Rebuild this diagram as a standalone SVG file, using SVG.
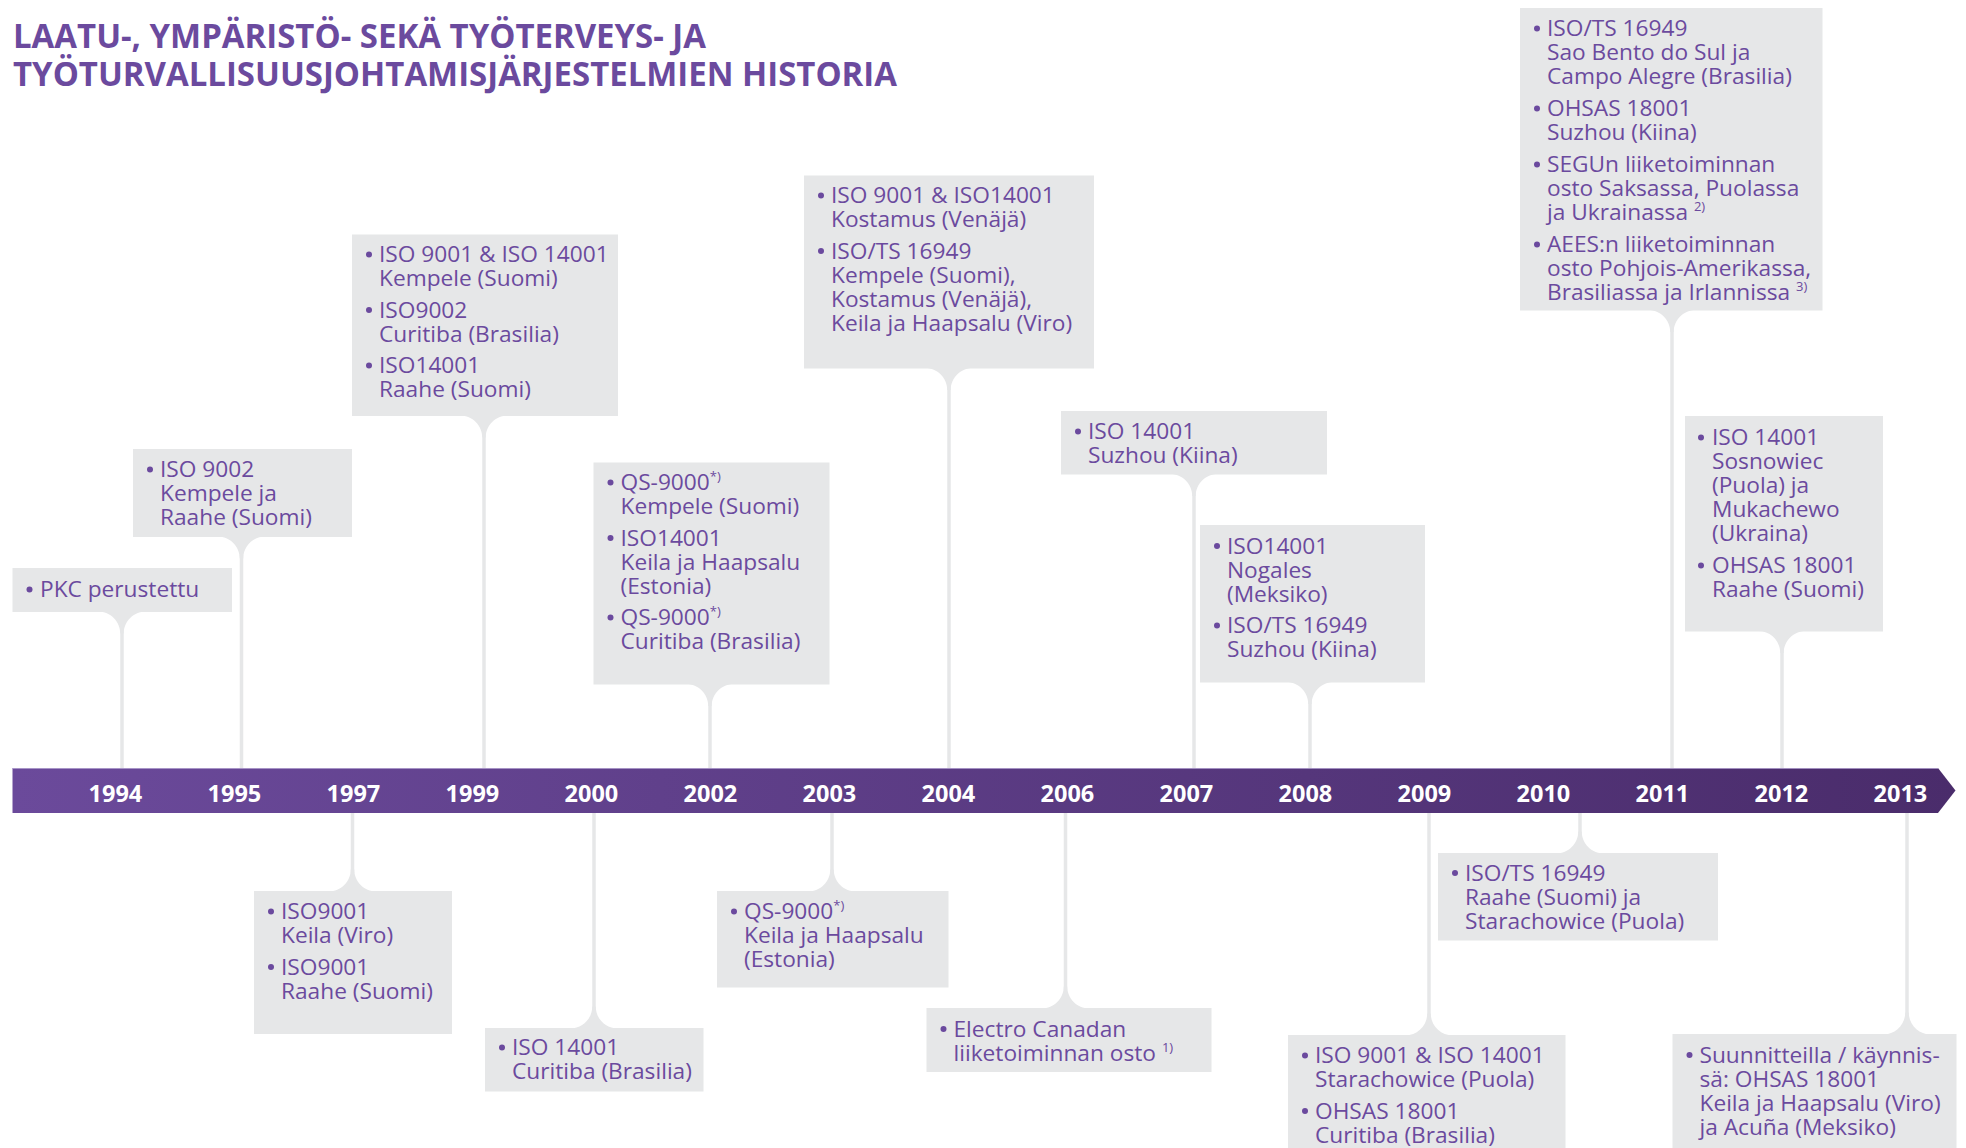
<svg xmlns="http://www.w3.org/2000/svg" xmlns:xlink="http://www.w3.org/1999/xlink" width="1966" height="1148" viewBox="0 0 1966 1148">
<style>
.box{fill:#e6e7e8}
.t{font-family:"Open Sans","Noto Sans","DejaVu Sans",sans-serif;font-size:22.7px;fill:#6b4a9e}
.bu{fill:#6b4a9e}
.sup{font-size:13px}
.title{font-family:"Open Sans","Noto Sans","DejaVu Sans",sans-serif;font-size:34px;font-weight:700;fill:#6b4a9e}
.yr{font-family:"Open Sans","Noto Sans","DejaVu Sans",sans-serif;font-size:23.5px;font-weight:700;fill:#ffffff;text-anchor:middle}
.stem{stroke:#e6e7e8;stroke-width:3.5;fill:none}
.fl{fill:#e6e7e8}
</style>
<defs>
<linearGradient id="barg" x1="0" y1="0" x2="1" y2="0">
<stop offset="0" stop-color="#6b4a9b"/>
<stop offset="1" stop-color="#4a2c6b"/>
</linearGradient>
<path id="flDown" d="M-23.75,0 C-11.6,0 -1.75,9.85 -1.75,22 L1.75,22 C1.75,9.85 11.6,0 23.75,0 Z"/>
<path id="flUp" d="M-23.75,0 C-11.6,0 -1.75,-9.85 -1.75,-22 L1.75,-22 C1.75,-9.85 11.6,0 23.75,0 Z"/>
</defs>
<rect width="1966" height="1148" fill="#ffffff"/>

<g id="title">
<text class="title" x="13" y="48" textLength="693" lengthAdjust="spacingAndGlyphs">LAATU-, YMPÄRISTÖ- SEKÄ TYÖTERVEYS- JA</text>
<text class="title" x="13" y="86" textLength="884" lengthAdjust="spacingAndGlyphs">TYÖTURVALLISUUSJOHTAMISJÄRJESTELMIEN HISTORIA</text>
</g>

<g id="connectors">
<use xlink:href="#flDown" class="fl" x="122" y="611.5"/><line class="stem" x1="122" y1="630" x2="122" y2="768"/>
<use xlink:href="#flDown" class="fl" x="241.5" y="536.5"/><line class="stem" x1="241.5" y1="555" x2="241.5" y2="768"/>
<use xlink:href="#flDown" class="fl" x="484" y="415.5"/><line class="stem" x1="484" y1="434" x2="484" y2="768"/>
<use xlink:href="#flDown" class="fl" x="710" y="684"/><line class="stem" x1="710" y1="702" x2="710" y2="768"/>
<use xlink:href="#flDown" class="fl" x="949" y="368"/><line class="stem" x1="949" y1="386" x2="949" y2="768"/>
<use xlink:href="#flDown" class="fl" x="1194" y="474"/><line class="stem" x1="1194" y1="492" x2="1194" y2="768"/>
<use xlink:href="#flDown" class="fl" x="1310" y="682"/><line class="stem" x1="1310" y1="700" x2="1310" y2="768"/>
<use xlink:href="#flDown" class="fl" x="1672" y="310"/><line class="stem" x1="1672" y1="328" x2="1672" y2="768"/>
<use xlink:href="#flDown" class="fl" x="1782" y="631"/><line class="stem" x1="1782" y1="649" x2="1782" y2="768"/>
<use xlink:href="#flUp" class="fl" x="352.5" y="891.5"/><line class="stem" x1="352.5" y1="813" x2="352.5" y2="873"/>
<use xlink:href="#flUp" class="fl" x="594" y="1028.5"/><line class="stem" x1="594" y1="813" x2="594" y2="1010"/>
<use xlink:href="#flUp" class="fl" x="832" y="891.5"/><line class="stem" x1="832" y1="813" x2="832" y2="873"/>
<use xlink:href="#flUp" class="fl" x="1065.5" y="1008.5"/><line class="stem" x1="1065.5" y1="813" x2="1065.5" y2="990"/>
<use xlink:href="#flUp" class="fl" x="1429" y="1035.5"/><line class="stem" x1="1429" y1="813" x2="1429" y2="1017"/>
<use xlink:href="#flUp" class="fl" x="1580" y="853.5"/><line class="stem" x1="1580" y1="813" x2="1580" y2="835"/>
<use xlink:href="#flUp" class="fl" x="1907" y="1034.5"/><line class="stem" x1="1907" y1="813" x2="1907" y2="1016"/>
</g>

<g id="timeline">
<polygon points="12.5,768 1938,768 1955.5,790.5 1938,813 12.5,813" fill="url(#barg)"/>
<line x1="12.5" y1="768.5" x2="1938" y2="768.5" stroke="#b7a7d3" stroke-width="1" opacity="0.8"/>
<text class="yr" x="115.4" y="802">1994</text>
<text class="yr" x="234.4" y="802">1995</text>
<text class="yr" x="353.4" y="802">1997</text>
<text class="yr" x="472.4" y="802">1999</text>
<text class="yr" x="591.4" y="802">2000</text>
<text class="yr" x="710.4" y="802">2002</text>
<text class="yr" x="829.4" y="802">2003</text>
<text class="yr" x="948.4" y="802">2004</text>
<text class="yr" x="1067.4" y="802">2006</text>
<text class="yr" x="1186.4" y="802">2007</text>
<text class="yr" x="1305.4" y="802">2008</text>
<text class="yr" x="1424.4" y="802">2009</text>
<text class="yr" x="1543.4" y="802">2010</text>
<text class="yr" x="1662.4" y="802">2011</text>
<text class="yr" x="1781.4" y="802">2012</text>
<text class="yr" x="1900.4" y="802">2013</text>
</g>

<g id="node-1994">
<rect class="box" x="12.5" y="568" width="219.5" height="44"/>
<circle class="bu" cx="29.5" cy="589.5" r="3"/>
<text class="t" x="40" y="597">PKC perustettu</text>
</g>

<g id="node-1995">
<rect class="box" x="133" y="449" width="219" height="88"/>
<circle class="bu" cx="150" cy="469.5" r="3"/>
<text class="t"><tspan x="160" y="477">ISO 9002</tspan><tspan x="160" y="501">Kempele ja</tspan><tspan x="160" y="525">Raahe (Suomi)</tspan></text>
</g>

<g id="node-1999">
<rect class="box" x="352" y="234.5" width="266" height="181.5"/>
<circle class="bu" cx="369" cy="254.5" r="3"/>
<circle class="bu" cx="369" cy="310" r="3"/>
<circle class="bu" cx="369" cy="365.5" r="3"/>
<text class="t"><tspan x="379" y="262">ISO 9001 &amp; ISO 14001</tspan><tspan x="379" y="286">Kempele (Suomi)</tspan><tspan x="379" y="317.5">ISO9002</tspan><tspan x="379" y="341.5">Curitiba (Brasilia)</tspan><tspan x="379" y="373">ISO14001</tspan><tspan x="379" y="397">Raahe (Suomi)</tspan></text>
</g>

<g id="node-2002">
<rect class="box" x="593.5" y="462.5" width="236" height="222"/>
<circle class="bu" cx="610.5" cy="482.5" r="3"/>
<circle class="bu" cx="610.5" cy="538" r="3"/>
<circle class="bu" cx="610.5" cy="617.5" r="3"/>
<text class="t"><tspan x="620.5" y="490">QS-9000</tspan><tspan class="sup" dy="-9">*)</tspan><tspan x="620.5" y="514">Kempele (Suomi)</tspan><tspan x="620.5" y="545.5">ISO14001</tspan><tspan x="620.5" y="569.5">Keila ja Haapsalu</tspan><tspan x="620.5" y="593.5">(Estonia)</tspan><tspan x="620.5" y="625">QS-9000</tspan><tspan class="sup" dy="-9">*)</tspan><tspan x="620.5" y="649">Curitiba (Brasilia)</tspan></text>
</g>

<g id="node-2004">
<rect class="box" x="804" y="175.5" width="290" height="193"/>
<circle class="bu" cx="821" cy="195.5" r="3"/>
<circle class="bu" cx="821" cy="251" r="3"/>
<text class="t"><tspan x="831" y="203">ISO 9001 &amp; ISO14001</tspan><tspan x="831" y="227">Kostamus (Venäjä)</tspan><tspan x="831" y="258.5">ISO/TS 16949</tspan><tspan x="831" y="282.5">Kempele (Suomi),</tspan><tspan x="831" y="306.5">Kostamus (Venäjä),</tspan><tspan x="831" y="330.5">Keila ja Haapsalu (Viro)</tspan></text>
</g>

<g id="node-2007">
<rect class="box" x="1061" y="411" width="266" height="63.5"/>
<circle class="bu" cx="1078" cy="431.5" r="3"/>
<text class="t"><tspan x="1088" y="439">ISO 14001</tspan><tspan x="1088" y="463">Suzhou (Kiina)</tspan></text>
</g>

<g id="node-2008">
<rect class="box" x="1200" y="525" width="225" height="157.5"/>
<circle class="bu" cx="1217" cy="546" r="3"/>
<circle class="bu" cx="1217" cy="625.5" r="3"/>
<text class="t"><tspan x="1227" y="553.5">ISO14001</tspan><tspan x="1227" y="577.5">Nogales</tspan><tspan x="1227" y="601.5">(Meksiko)</tspan><tspan x="1227" y="633">ISO/TS 16949</tspan><tspan x="1227" y="657">Suzhou (Kiina)</tspan></text>
</g>

<g id="node-2011">
<rect class="box" x="1520" y="8" width="302.5" height="302.5"/>
<circle class="bu" cx="1537" cy="28.5" r="3"/>
<circle class="bu" cx="1537" cy="108.5" r="3"/>
<circle class="bu" cx="1537" cy="164.5" r="3"/>
<circle class="bu" cx="1537" cy="244.5" r="3"/>
<text class="t"><tspan x="1547" y="36">ISO/TS 16949</tspan><tspan x="1547" y="60">Sao Bento do Sul ja</tspan><tspan x="1547" y="84">Campo Alegre (Brasilia)</tspan><tspan x="1547" y="116">OHSAS 18001</tspan><tspan x="1547" y="140">Suzhou (Kiina)</tspan><tspan x="1547" y="172">SEGUn liiketoiminnan</tspan><tspan x="1547" y="196">osto Saksassa, Puolassa</tspan><tspan x="1547" y="220">ja Ukrainassa </tspan><tspan class="sup" dy="-9">2)</tspan><tspan x="1547" y="252">AEES:n liiketoiminnan</tspan><tspan x="1547" y="276">osto Pohjois-Amerikassa,</tspan><tspan x="1547" y="300">Brasiliassa ja Irlannissa </tspan><tspan class="sup" dy="-9">3)</tspan></text>
</g>

<g id="node-2012">
<rect class="box" x="1685" y="416" width="198" height="215.5"/>
<circle class="bu" cx="1701" cy="437.5" r="3"/>
<circle class="bu" cx="1701" cy="565.5" r="3"/>
<text class="t"><tspan x="1712" y="445">ISO 14001</tspan><tspan x="1712" y="469">Sosnowiec</tspan><tspan x="1712" y="493">(Puola) ja</tspan><tspan x="1712" y="517">Mukachewo</tspan><tspan x="1712" y="541">(Ukraina)</tspan><tspan x="1712" y="573">OHSAS 18001</tspan><tspan x="1712" y="597">Raahe (Suomi)</tspan></text>
</g>

<g id="node-1997">
<rect class="box" x="254" y="891" width="198" height="143"/>
<circle class="bu" cx="271" cy="911.5" r="3"/>
<circle class="bu" cx="271" cy="967" r="3"/>
<text class="t"><tspan x="281" y="919">ISO9001</tspan><tspan x="281" y="943">Keila (Viro)</tspan><tspan x="281" y="974.5">ISO9001</tspan><tspan x="281" y="998.5">Raahe (Suomi)</tspan></text>
</g>

<g id="node-2000">
<rect class="box" x="485" y="1028" width="218.5" height="63.5"/>
<circle class="bu" cx="502" cy="1047.5" r="3"/>
<text class="t"><tspan x="512" y="1055">ISO 14001</tspan><tspan x="512" y="1079">Curitiba (Brasilia)</tspan></text>
</g>

<g id="node-2003">
<rect class="box" x="717" y="891" width="231.5" height="96.5"/>
<circle class="bu" cx="734" cy="911.5" r="3"/>
<text class="t"><tspan x="744" y="919">QS-9000</tspan><tspan class="sup" dy="-9">*)</tspan><tspan x="744" y="943">Keila ja Haapsalu</tspan><tspan x="744" y="967">(Estonia)</tspan></text>
</g>

<g id="node-2006">
<rect class="box" x="926.5" y="1008" width="285" height="64"/>
<circle class="bu" cx="943.5" cy="1029" r="3"/>
<text class="t"><tspan x="953.5" y="1036.5">Electro Canadan</tspan><tspan x="953.5" y="1060.5">liiketoiminnan osto </tspan><tspan class="sup" dy="-9">1)</tspan></text>
</g>

<g id="node-2009">
<rect class="box" x="1288" y="1035" width="277.5" height="113"/>
<circle class="bu" cx="1305" cy="1055.5" r="3"/>
<circle class="bu" cx="1305" cy="1111" r="3"/>
<text class="t"><tspan x="1315" y="1063">ISO 9001 &amp; ISO 14001</tspan><tspan x="1315" y="1087">Starachowice (Puola)</tspan><tspan x="1315" y="1118.5">OHSAS 18001</tspan><tspan x="1315" y="1142.5">Curitiba (Brasilia)</tspan></text>
</g>

<g id="node-2010">
<rect class="box" x="1438" y="853" width="280" height="87.5"/>
<circle class="bu" cx="1455" cy="873" r="3"/>
<text class="t"><tspan x="1465" y="880.5">ISO/TS 16949</tspan><tspan x="1465" y="904.5">Raahe (Suomi) ja</tspan><tspan x="1465" y="928.5">Starachowice (Puola)</tspan></text>
</g>

<g id="node-2013">
<rect class="box" x="1672.5" y="1034" width="284" height="114"/>
<circle class="bu" cx="1689.5" cy="1055" r="3"/>
<text class="t"><tspan x="1699.5" y="1062.5">Suunnitteilla / käynnis-</tspan><tspan x="1699.5" y="1086.5">sä: OHSAS 18001</tspan><tspan x="1699.5" y="1110.5">Keila ja Haapsalu (Viro)</tspan><tspan x="1699.5" y="1134.5">ja Acuña (Meksiko)</tspan></text>
</g>
</svg>
